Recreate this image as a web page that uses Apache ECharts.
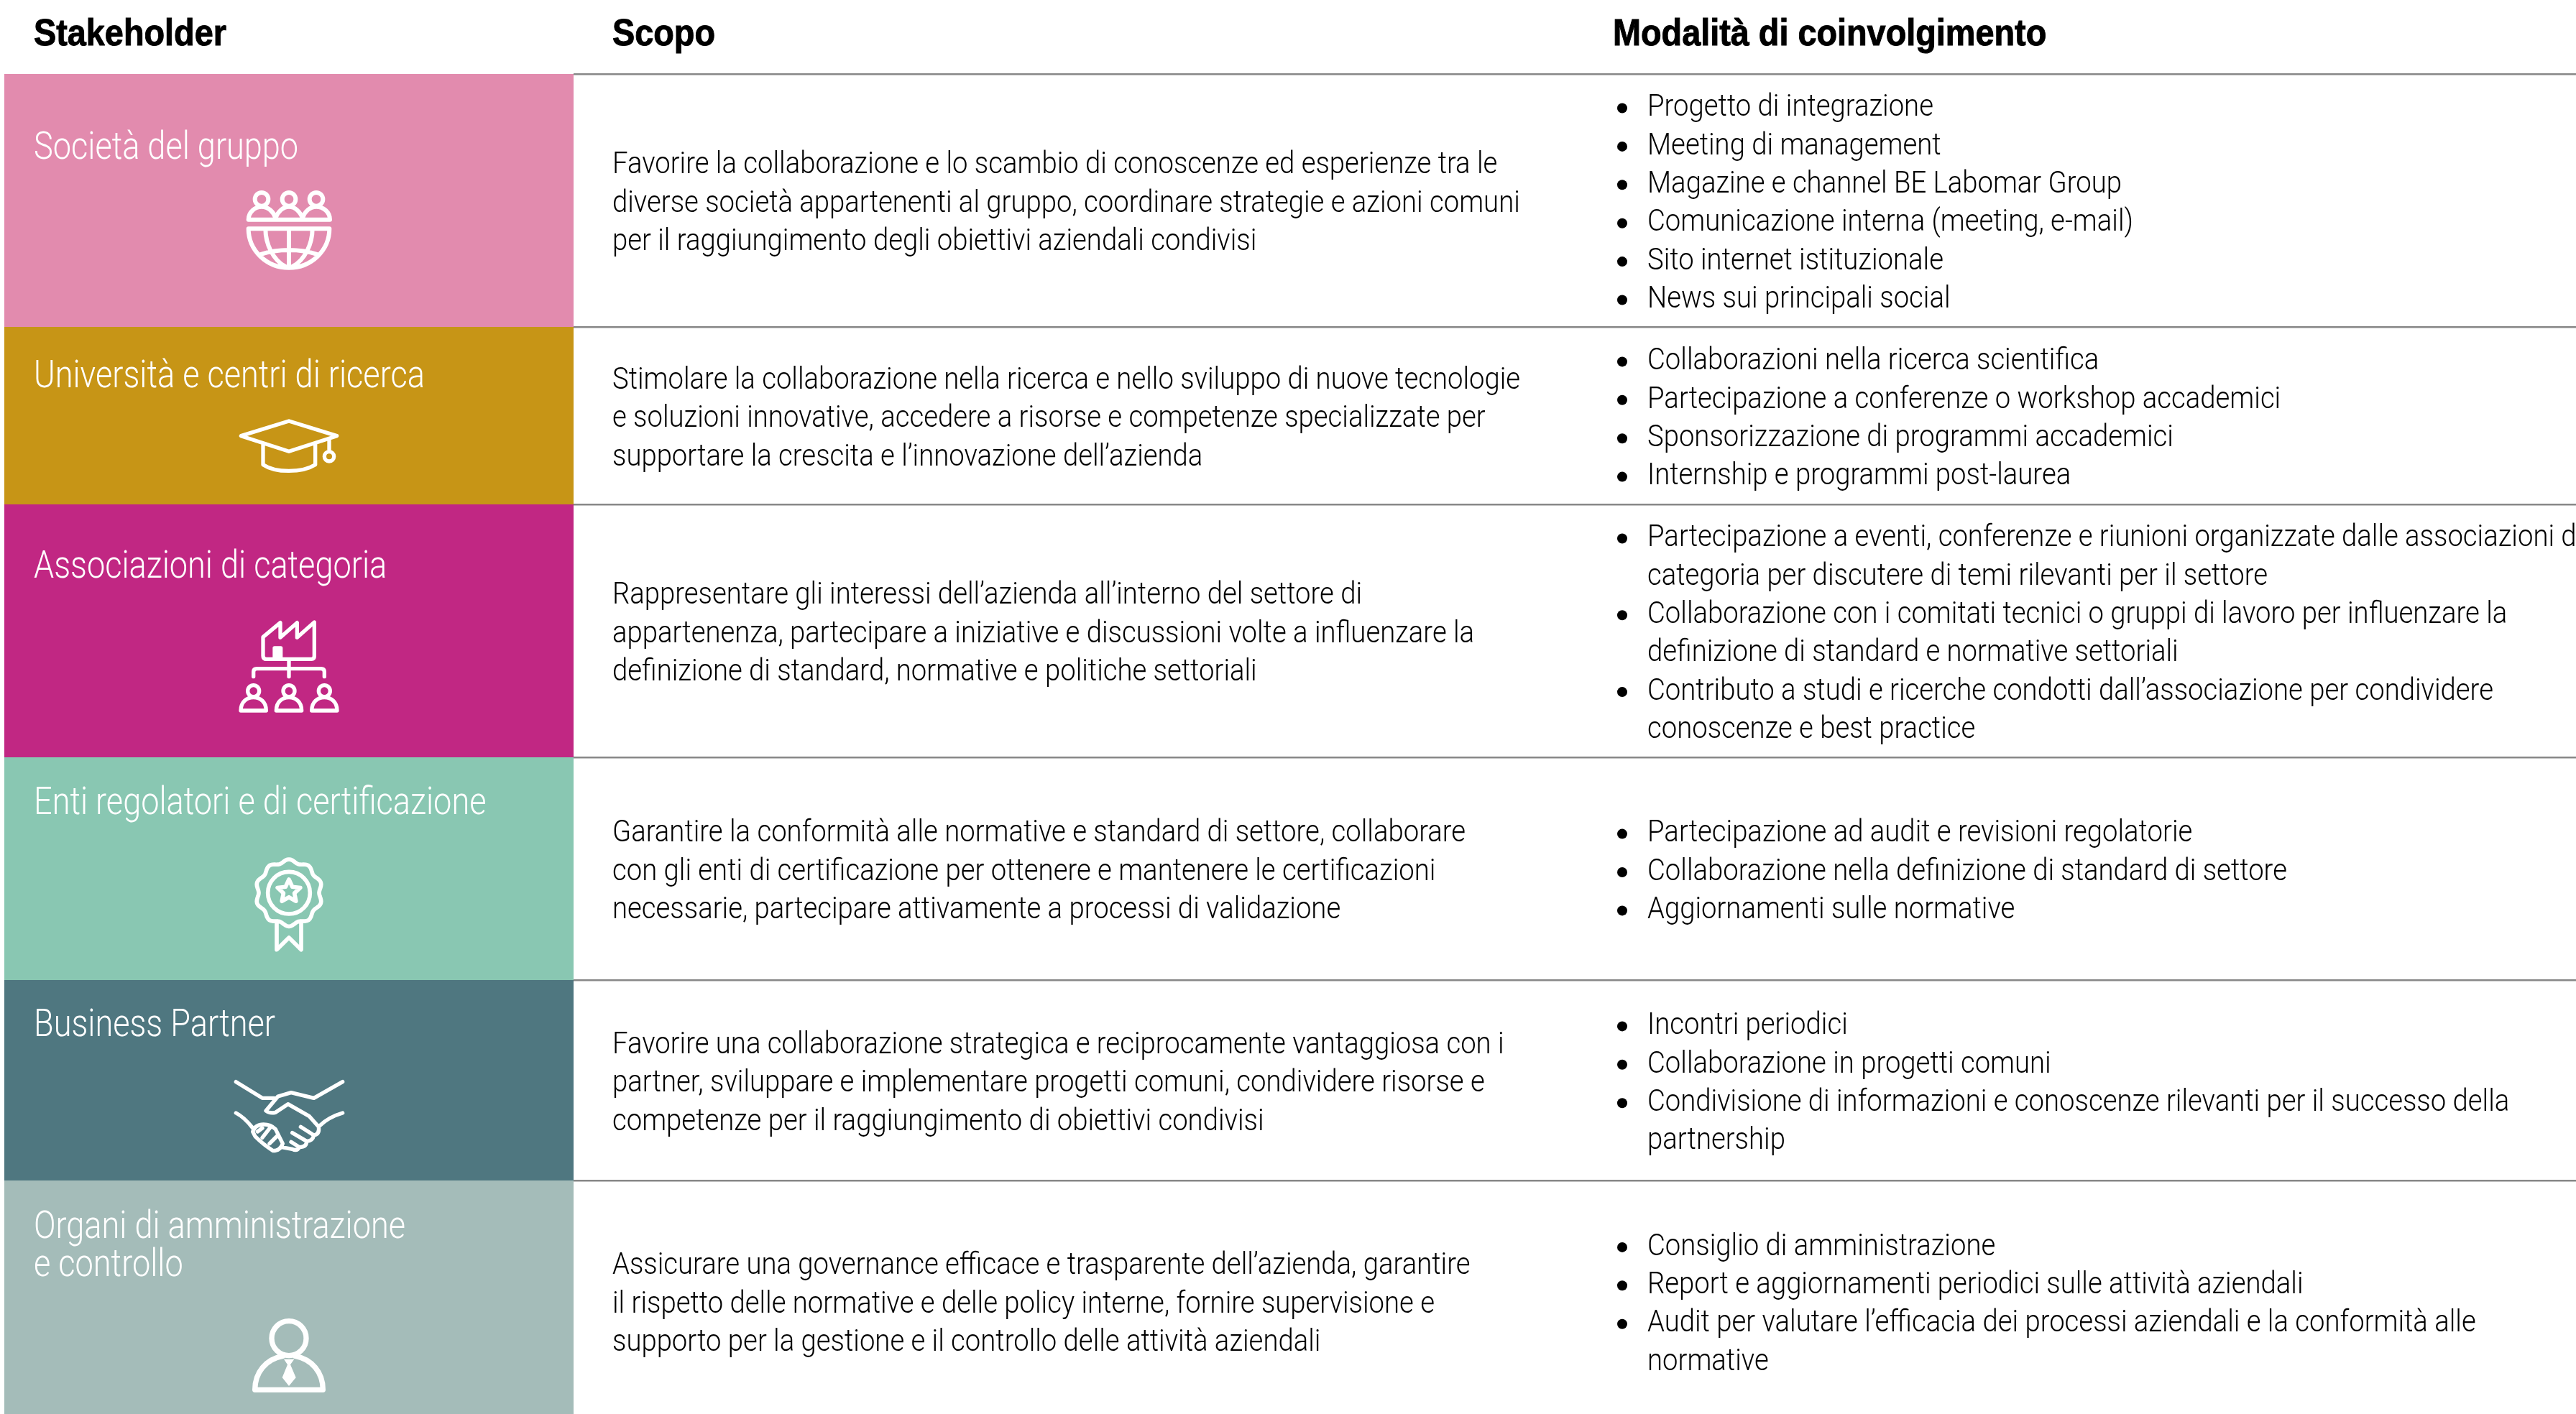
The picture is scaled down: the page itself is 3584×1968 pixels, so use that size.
<!DOCTYPE html>
<html>
<head>
<meta charset="utf-8">
<style>html,body{margin:0;background:#fff}#main{width:3584px;height:1968px}</style>
<script src="https://cdn.jsdelivr.net/npm/echarts@6/dist/echarts.min.js"></script>
</head>
<body>
<div id="main"></div>
<script>
// dati della tabella
var headers = ['Stakeholder', 'Scopo', 'Modalità di coinvolgimento'];
var stakeholders = [
	['Società del gruppo'],
	['Università e centri di ricerca'],
	['Associazioni di categoria'],
	['Enti regolatori e di certificazione'],
	['Business Partner'],
	['Organi di amministrazione', 'e controllo']
];
var scopes = [
	['Favorire la collaborazione e lo scambio di conoscenze ed esperienze tra le',
	 'diverse società appartenenti al gruppo, coordinare strategie e azioni comuni',
	 'per il raggiungimento degli obiettivi aziendali condivisi'],
	['Stimolare la collaborazione nella ricerca e nello sviluppo di nuove tecnologie',
	 'e soluzioni innovative, accedere a risorse e competenze specializzate per',
	 'supportare la crescita e l’innovazione dell’azienda'],
	['Rappresentare gli interessi dell’azienda all’interno del settore di',
	 'appartenenza, partecipare a iniziative e discussioni volte a influenzare la',
	 'definizione di standard, normative e politiche settoriali'],
	['Garantire la conformità alle normative e standard di settore, collaborare',
	 'con gli enti di certificazione per ottenere e mantenere le certificazioni',
	 'necessarie, partecipare attivamente a processi di validazione'],
	['Favorire una collaborazione strategica e reciprocamente vantaggiosa con i',
	 'partner, sviluppare e implementare progetti comuni, condividere risorse e',
	 'competenze per il raggiungimento di obiettivi condivisi'],
	['Assicurare una governance efficace e trasparente dell’azienda, garantire',
	 'il rispetto delle normative e delle policy interne, fornire supervisione e',
	 'supporto per la gestione e il controllo delle attività aziendali']
];
// ogni voce e' un punto elenco, \n = a capo nel punto
var modes = [
	['Progetto di integrazione', 'Meeting di management', 'Magazine e channel BE Labomar Group',
	 'Comunicazione interna (meeting, e-mail)', 'Sito internet istituzionale', 'News sui principali social'],
	['Collaborazioni nella ricerca scientifica', 'Partecipazione a conferenze o workshop accademici',
	 'Sponsorizzazione di programmi accademici', 'Internship e programmi post-laurea'],
	['Partecipazione a eventi, conferenze e riunioni organizzate dalle associazioni di\ncategoria per discutere di temi rilevanti per il settore',
	 'Collaborazione con i comitati tecnici o gruppi di lavoro per influenzare la\ndefinizione di standard e normative settoriali',
	 'Contributo a studi e ricerche condotti dall’associazione per condividere\nconoscenze e best practice'],
	['Partecipazione ad audit e revisioni regolatorie', 'Collaborazione nella definizione di standard di settore',
	 'Aggiornamenti sulle normative'],
	['Incontri periodici', 'Collaborazione in progetti comuni',
	 'Condivisione di informazioni e conoscenze rilevanti per il successo della\npartnership'],
	['Consiglio di amministrazione', 'Report e aggiornamenti periodici sulle attività aziendali',
	 'Audit per valutare l’efficacia dei processi aziendali e la conformità alle\nnormative']
];
var rowColors = ['#E28BAE', '#C79516', '#C12783', '#89C7B2', '#4F7780', '#A4BCB9'];

// layout, in pixel dell'asse
var rowEdges = [103, 455, 702, 1054, 1364, 1643, 1979];
var titleOffsets = [104, 70, 88, 65, 64, 66];
var lineH = 53.4;
var textShift = 5;
var colX = [47, 852, 2292];
var bulletX = 2257;
var headerX = [47, 852, 2244];

// icone: coordinate del ritaglio 3x, ancorate a iconOrigin
var iconOrigin = [[280, 240], [300, 560], [280, 840], [280, 1170], [280, 1480], [280, 1810]];

function circle(cx, cy, r) {
	return 'M' + (cx - r) + ' ' + cy + 'A' + r + ' ' + r + ' 0 1 1 ' + (cx + r) + ' ' + cy + 'A' + r + ' ' + r + ' 0 1 1 ' + (cx - r) + ' ' + cy + 'Z';
}
function person(cx, top, base) {
	return circle(cx, top, 24) + 'M' + (cx - 53) + ' ' + base + 'C' + (cx - 53) + ' ' + (base - 37) + ' ' + (cx - 28) + ' ' + (base - 55) + ' ' + cx + ' ' + (base - 55) +
		'C' + (cx + 28) + ' ' + (base - 55) + ' ' + (cx + 53) + ' ' + (base - 37) + ' ' + (cx + 53) + ' ' + base + 'Z';
}
function rosette(cx, cy) {
	var d = '';
	for (var i = 0; i <= 120; i++) {
		var a = i / 120 * Math.PI * 2;
		var r = 133 + 7 * Math.cos(a * 10);
		d += (i ? 'L' : 'M') + (cx + r * Math.sin(a)).toFixed(1) + ' ' + (cy - r * Math.cos(a)).toFixed(1);
	}
	return d + 'Z';
}
function star(cx, cy, ro, ri) {
	var d = '';
	for (var i = 0; i < 10; i++) {
		var a = i / 10 * Math.PI * 2;
		var r = i % 2 ? ri : ro;
		d += (i ? 'L' : 'M') + (cx + r * Math.sin(a)).toFixed(1) + ' ' + (cy - r * Math.cos(a)).toFixed(1);
	}
	return d + 'Z';
}
var iconStroke = [
	{w: 18, d: circle(252, 112, 28) + circle(366, 112, 28) + circle(480, 112, 28) +
		'M197 197C197 165 225 143 252 143C280 143 302 165 310 190C320 165 340 143 366 143C392 143 412 165 423 190C431 165 452 143 480 143C510 143 537 165 537 197Z' +
		'M197 235H535C535 325 460 398 366 398C272 398 197 325 197 235ZM366 235V398M268 235C268 300 300 365 350 392M464 235C464 300 432 365 382 392M248 342C320 318 412 318 484 342'},
	{w: 16, d: 'M306 78L506 140L306 205L106 140ZM198 172V260C250 295 360 295 416 260V172M474 155V205' + circle(474, 226, 20)},
	{w: 16, d: 'M258 140L330 80V142L400 80V142L472 78V220Q472 232 460 232H272Q258 232 258 218ZM366 232V305M218 305V285Q218 272 232 272H500Q514 272 514 285V305' +
		person(218, 365, 447) + person(366, 365, 447) + person(514, 365, 447)},
	{w: 17, d: rosette(366, 218) + circle(366, 218, 88) + star(366, 212, 50, 24) + 'M315 345V455L366 405L417 455V345'},
	{w: 16, d: 'M145 77L255 145H305M590 77L470 145L375 122L320 138L270 198Q285 210 310 205L362 170L450 220L490 265Q495 295 470 300L415 265' +
		'M145 207Q180 225 215 270M590 207Q530 225 495 260M215 285Q225 255 260 255Q290 255 310 275L340 335Q330 365 300 365Q260 340 225 305Z' +
		'M235 285L255 270M255 310L290 265M285 335L320 300M470 300Q465 325 440 325L380 290M440 325Q440 350 410 350L375 328M410 350Q400 368 380 358L335 350'},
	{w: 22, d: circle(366, 158, 72) + 'M224 373H508C508 300 462 245 392 232M224 373C224 300 270 245 340 232'}
];
var iconFill = ['', '', 'M298 232V186Q298 178 306 178H332Q340 178 340 186V232Z', '', '', 'M345 245L388 245L372 268L395 322L366 357L338 322L360 268Z'];

var bodyFont = {fontFamily: 'Roboto', fontWeight: 300, fontSize: 43, fill: '#000'};
var bodyScale = 0.89;
var titleFont = {fontFamily: 'Roboto', fontWeight: 300, fontSize: 54, fill: '#fff'};
var titleScale = 0.835;
var headFont = {fontFamily: '"Liberation Sans"', fontWeight: 700, fontSize: 52, fill: '#000', stroke: '#000', lineWidth: 1};
var headScale = 0.9;

function textEl(api, str, x, y, font, sx) {
	var p = api.coord([x, y]);
	return {
		type: 'text', x: p[0], y: p[1], scaleX: sx, scaleY: 1,
		style: Object.assign({text: str, align: 'left', verticalAlign: 'middle'}, font)
	};
}

function renderRow(params, api) {
	var i = api.value(0);
	var top = rowEdges[i], bottom = rowEdges[i + 1];
	var center = (top + bottom) / 2;
	var p0 = api.coord([6, top]), p1 = api.coord([798, bottom]);
	var lp0 = api.coord([798, top]), lp1 = api.coord([3584, top]);
	var kids = [
		{type: 'rect', shape: {x: p0[0], y: p0[1], width: p1[0] - p0[0], height: p1[1] - p0[1]}, style: {fill: rowColors[i]}},
		{type: 'rect', shape: {x: lp0[0], y: lp0[1] - 1, width: lp1[0] - lp0[0], height: 2.4}, style: {fill: '#878787'}}
	];
	stakeholders[i].forEach(function (s, k) {
		kids.push(textEl(api, s, colX[0], top + titleOffsets[i] + k * lineH, titleFont, titleScale));
	});
	scopes[i].forEach(function (s, k) {
		kids.push(textEl(api, s, colX[1], center + textShift + (k - 1) * lineH, bodyFont, bodyScale));
	});
	var lines = [];
	modes[i].forEach(function (m) {
		m.split('\n').forEach(function (s, k) { lines.push({s: s, first: k === 0}); });
	});
	lines.forEach(function (l, k) {
		var y = center + textShift + (k - (lines.length - 1) / 2) * lineH;
		kids.push(textEl(api, l.s, colX[2], y, bodyFont, bodyScale));
		if (l.first) {
			var b = api.coord([bulletX, y]);
			kids.push({type: 'circle', shape: {cx: b[0], cy: b[1], r: 7}, style: {fill: '#000'}});
		}
	});
	var o = api.coord(iconOrigin[i]);
	kids.push({
		type: 'path', x: o[0], y: o[1], scaleX: 1 / 3, scaleY: 1 / 3,
		shape: {pathData: iconStroke[i].d},
		style: {fill: 'none', stroke: '#fff', lineWidth: iconStroke[i].w, lineJoin: 'round', lineCap: 'round'}
	});
	if (iconFill[i]) {
		kids.push({
			type: 'path', x: o[0], y: o[1], scaleX: 1 / 3, scaleY: 1 / 3,
			shape: {pathData: iconFill[i]},
			style: {fill: '#fff'}
		});
	}
	return {type: 'group', children: kids};
}

function renderHeader(params, api) {
	var i = api.value(0);
	return textEl(api, headers[i], headerX[i], 49, headFont, headScale);
}

var chart = echarts.init(document.getElementById('main'));
chart.setOption({
	animation: false,
	grid: {left: 0, right: 0, top: 0, bottom: 0},
	xAxis: {type: 'value', min: 0, max: 3584, show: false},
	yAxis: {type: 'value', min: 0, max: 1968, inverse: true, show: false},
	series: [
		{type: 'custom', silent: true, clip: false, renderItem: renderRow, encode: {x: 0, y: 0},
			data: stakeholders.map(function (s, i) { return [i]; })},
		{type: 'custom', silent: true, clip: false, renderItem: renderHeader, encode: {x: 0, y: 0},
			data: headers.map(function (s, i) { return [i]; })}
	]
});
</script>
</body>
</html>
